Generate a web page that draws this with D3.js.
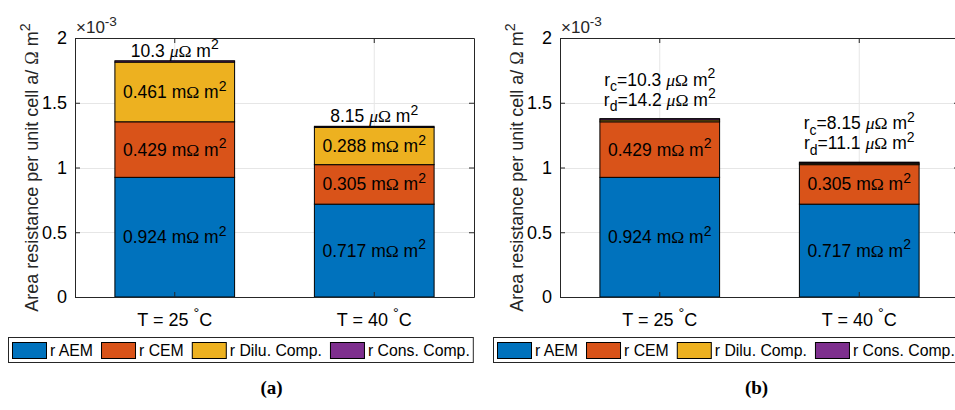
<!DOCTYPE html>
<html>
<head>
<meta charset="utf-8">
<script src="https://cdn.jsdelivr.net/npm/d3@7"></script>
<style>
  body { margin: 0; background: #fff; }
  svg { display: block; }
  text { font-family: "Liberation Sans", Arial, sans-serif; fill: #000; }
</style>
</head>
<body>
<svg id="chart" width="955" height="410"></svg>
<script>
// categories (temperature in degC)
const temps = ['25', '40'];
const seriesNames = ['r AEM', 'r CEM', 'r Dilu. Comp.', 'r Cons. Comp.'];
const colors = ['#0072BD', '#D95319', '#EDB120', '#7E2F8E'];

// panel (a) values, Ohm m^2
const aemA = [0.924e-3, 0.717e-3];
const cemA = [0.429e-3, 0.305e-3];
const diluA = [0.461e-3, 0.288e-3];
const consA = [10.3e-6, 8.15e-6];

// panel (b) values, Ohm m^2
const aemB = [0.924e-3, 0.717e-3];
const cemB = [0.429e-3, 0.305e-3];
const diluB = [14.2e-6, 11.1e-6];
const consB = [10.3e-6, 8.15e-6];

const yTicks = [0, 0.5e-3, 1e-3, 1.5e-3, 2e-3];
const yTickLabels = ['0', '0.5', '1', '1.5', '2'];

const FS = 18;   // axis text
const LFS = 17.5; // bar labels
const svg = d3.select('#chart');

// writes text made of parts: {t, sup, sub, serif, italic}
function rich(sel, parts, fs) {
  let cur = 0;
  parts.forEach(p => {
    const target = p.sup ? -0.42 * fs : p.sub ? 0.32 * fs : 0;
    const ts = sel.append('tspan').text(p.t).attr('dy', target - cur);
    cur = target;
    if (p.sup || p.sub) ts.style('font-size', (fs * 0.8) + 'px');
    if (p.serif) ts.style('font-family', '"Liberation Serif", "DejaVu Serif", serif');
    if (p.italic) ts.style('font-style', 'italic');
  });
  return sel;
}

const omega = [{ t: 'Ω', serif: true }, { t: ' m' }, { t: '2', sup: true }];
const mOhm = v => [{ t: (v * 1e3).toFixed(3) + ' m' }].concat(omega);
const uOhm = v => [{ t: (+(v * 1e6).toPrecision(3)) + ' ' }, { t: 'μ', serif: true, italic: true }].concat(omega);

const panels = [
  { left: 75, right: 474, top: 38, bottom: 297, caption: '(a)', legendX: 8, ylabX: 38,
    series: [aemA, cemA, diluA, consA], inside: [0, 1, 2], mode: 'a' },
  { left: 560, right: 959, top: 38, bottom: 297, caption: '(b)', legendX: 493, ylabX: 523,
    series: [aemB, cemB, diluB, consB], inside: [0, 1], mode: 'b' }
];

panels.forEach(P => {
  const x = d3.scaleBand().domain(temps).range([P.left, P.right])
    .paddingInner(0.4).paddingOuter(0.2);
  const y = d3.scaleLinear().domain([0, 2e-3]).range([P.bottom, P.top]);

  const rows = temps.map((t, i) => {
    const r = { t };
    seriesNames.forEach((s, k) => r[s] = P.series[k][i]);
    return r;
  });
  const stacked = d3.stack().keys(seriesNames)(rows);

  // grid
  const grid = svg.append('g').attr('stroke', '#e6e6e6').attr('stroke-width', 1);
  grid.selectAll('.gy').data(yTicks.slice(1, -1)).enter().append('line')
    .attr('x1', P.left).attr('x2', P.right)
    .attr('y1', d => Math.round(y(d)) + 0.5).attr('y2', d => Math.round(y(d)) + 0.5);
  grid.selectAll('.gx').data(temps).enter().append('line')
    .attr('x1', d => x(d) + x.bandwidth() / 2).attr('x2', d => x(d) + x.bandwidth() / 2)
    .attr('y1', P.top).attr('y2', P.bottom);

  // bars
  stacked.forEach((layer, k) => {
    svg.append('g').selectAll('rect').data(layer).enter().append('rect')
      .attr('x', d => x(d.data.t))
      .attr('width', x.bandwidth())
      .attr('y', d => y(d[1]))
      .attr('height', d => y(d[0]) - y(d[1]))
      .attr('fill', colors[k])
      .attr('stroke', '#000').attr('stroke-width', 1);
  });

  // axes box and ticks
  const ax = svg.append('g').attr('class', 'axes');
  ax.append('g').attr('transform', `translate(${P.left},0)`)
    .call(d3.axisLeft(y).tickValues(yTicks).tickFormat((d, i) => yTickLabels[i])
      .tickSizeInner(-5).tickSizeOuter(0).tickPadding(8));
  ax.append('g').attr('transform', `translate(${P.right},0)`)
    .call(d3.axisRight(y).tickValues(yTicks).tickFormat('').tickSizeInner(-5).tickSizeOuter(0));
  const xAxis = ax.append('g').attr('transform', `translate(0,${P.bottom})`)
    .call(d3.axisBottom(x).tickSizeInner(-5).tickSizeOuter(0));
  ax.append('g').attr('transform', `translate(0,${P.top})`)
    .call(d3.axisTop(x).tickFormat('').tickSizeInner(-5).tickSizeOuter(0));
  ax.selectAll('path.domain').attr('stroke', '#262626');
  ax.selectAll('.tick line').attr('stroke', '#262626');
  ax.selectAll('.tick text').attr('font-size', FS).attr('fill', '#262626')
    .style('font-family', '"Liberation Sans", Arial, sans-serif');
  xAxis.selectAll('.tick text').each(function (d) {
    const t = d3.select(this).text('').attr('dy', null).attr('y', 29);
    rich(t, [{ t: 'T = ' + d + ' ' }, { t: '°', sup: true }, { t: 'C' }], FS);
  });

  // exponent
  rich(svg.append('text').attr('x', P.left + 1).attr('y', P.top - 5)
    .attr('font-size', 17).style('fill', '#262626'),
    [{ t: '×10' }, { t: '-3', sup: true }], 17);

  // y label
  rich(svg.append('text')
    .attr('transform', `translate(${P.ylabX},${(P.top + P.bottom) / 2}) rotate(-90)`)
    .attr('text-anchor', 'middle').attr('font-size', FS).style('fill', '#262626'),
    [{ t: 'Area resistance per unit cell a/ ' }].concat(omega), FS);

  // labels inside segments
  P.inside.forEach(k => {
    stacked[k].forEach(d => {
      rich(svg.append('text')
        .attr('x', x(d.data.t) + x.bandwidth() / 2)
        .attr('y', (y(d[0]) + y(d[1])) / 2 + 6)
        .attr('text-anchor', 'middle').attr('font-size', LFS),
        mOhm(d[1] - d[0]), LFS);
    });
  });

  // labels above bars
  stacked[3].forEach((d, i) => {
    const cx = x(d.data.t) + x.bandwidth() / 2;
    const top = y(d[1]);
    if (P.mode === 'a') {
      rich(svg.append('text').attr('x', cx).attr('y', top - 4)
        .attr('text-anchor', 'middle').attr('font-size', LFS), uOhm(P.series[3][i]), LFS);
    } else {
      rich(svg.append('text').attr('x', cx).attr('y', top - 33)
        .attr('text-anchor', 'middle').attr('font-size', LFS),
        [{ t: 'r' }, { t: 'c', sub: true }, { t: '=' }].concat(uOhm(P.series[3][i])), LFS);
      rich(svg.append('text').attr('x', cx).attr('y', top - 13)
        .attr('text-anchor', 'middle').attr('font-size', LFS),
        [{ t: 'r' }, { t: 'd', sub: true }, { t: '=' }].concat(uOhm(P.series[2][i])), LFS);
    }
  });

  // legend
  const lg = svg.append('g');
  const box = lg.append('rect').attr('x', P.legendX + 0.5).attr('y', 337.5)
    .attr('height', 25).attr('fill', '#fff').attr('stroke', '#262626');
  let lx = P.legendX + 4;
  seriesNames.forEach((s, k) => {
    lg.append('rect').attr('x', lx + 0.5).attr('y', 342.5).attr('width', 34).attr('height', 16)
      .attr('fill', colors[k]).attr('stroke', '#000');
    const tx = lg.append('text').attr('x', lx + 38).attr('y', 356)
      .attr('font-size', 15.8).text(s);
    lx += 38 + tx.node().getComputedTextLength() + 8;
  });
  box.attr('width', lx - P.legendX - 5);

  // caption
  svg.append('text').attr('x', (P.left + P.right) / 2 - 3).attr('y', 394)
    .attr('text-anchor', 'middle').attr('font-size', 19).attr('font-weight', 'bold')
    .style('font-family', '"Liberation Serif", "DejaVu Serif", serif')
    .text(P.caption);
});
</script>
</body>
</html>
